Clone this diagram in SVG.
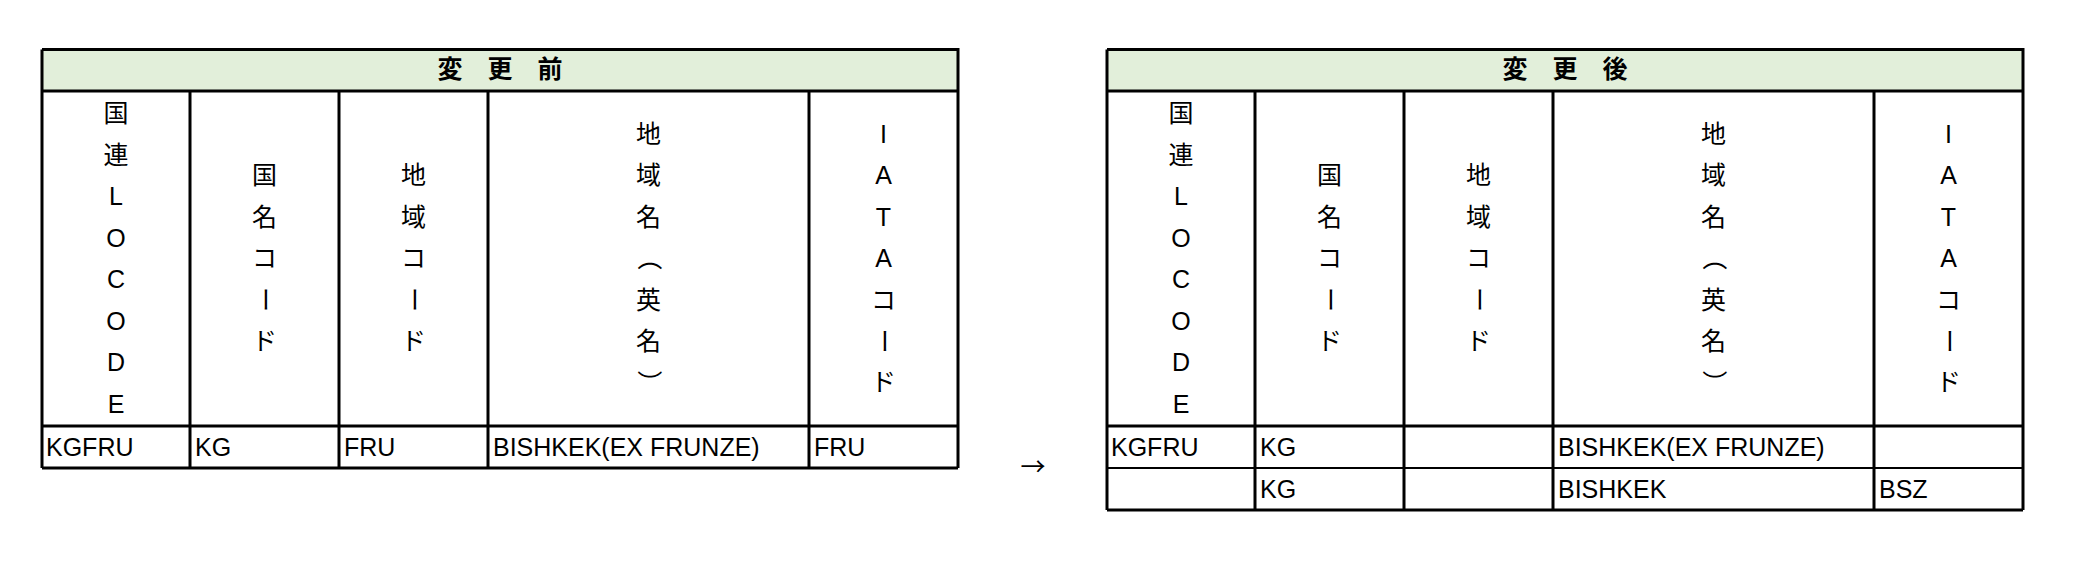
<svg xmlns="http://www.w3.org/2000/svg" width="2078" height="576" viewBox="0 0 2078 576">
<style>
text{font-family:"Liberation Sans","Noto Sans CJK JP",sans-serif;font-size:25px;fill:#000}
.t{font-weight:bold;text-anchor:middle}
.v{text-anchor:middle}
.arr{font-family:"Noto Sans CJK JP",sans-serif;text-anchor:middle}
.hd{fill:#E2EFDA}
.ln{stroke:#000;stroke-width:3;fill:none}
.thin{stroke:#000;stroke-width:2;fill:none}
</style>
<rect width="2078" height="576" fill="#fff"/>
<g id="before">
<rect class="hd" x="42" y="49.5" width="916" height="41.5"/>
<path class="ln" d="M42,49.5H958V468M42,49.5V468M42,91H958M42,426H958M42,468H958M190,91V468M339,91V468M488,91V468M809,91V468"/>
<text class="t" x="500" y="78">変　更　前</text>
<g id="before-h1" class="v">
<text x="116" y="122.4">国</text><text x="116" y="163.9">連</text><text x="116" y="205.3">L</text><text x="116" y="246.8">O</text><text x="116" y="288.2">C</text><text x="116" y="329.6">O</text><text x="116" y="371.1">D</text><text x="116" y="412.6">E</text>
</g>
<g id="before-h2" class="v">
<text x="264.5" y="184.1">国</text><text x="264.5" y="225.6">名</text><text x="264.5" y="267">コ</text><text transform="translate(264.5,299.5) rotate(90)" x="0" y="9">ー</text><text x="264.5" y="349.9">ド</text>
</g>
<g id="before-h3" class="v">
<text x="413.5" y="184.1">地</text><text x="413.5" y="225.6">域</text><text x="413.5" y="267">コ</text><text transform="translate(413.5,299.5) rotate(90)" x="0" y="9">ー</text><text x="413.5" y="349.9">ド</text>
</g>
<g id="before-h4" class="v">
<text x="648.5" y="142.7">地</text><text x="648.5" y="184.1">域</text><text x="648.5" y="225.6">名</text><text transform="translate(648.5,258) rotate(90)" x="0" y="9">（</text><text x="648.5" y="308.5">英</text><text x="648.5" y="349.9">名</text><text transform="translate(648.5,382.4) rotate(90)" x="0" y="9">）</text>
</g>
<g id="before-h5" class="v">
<text x="883.5" y="142.7">I</text><text x="883.5" y="184.1">A</text><text x="883.5" y="225.6">T</text><text x="883.5" y="267">A</text><text x="883.5" y="308.5">コ</text><text transform="translate(883.5,340.9) rotate(90)" x="0" y="9">ー</text><text x="883.5" y="391.4">ド</text>
</g>
<g id="before-r1">
<text x="46" y="456">KGFRU</text><text x="195" y="456">KG</text><text x="344" y="456">FRU</text><text x="493" y="456">BISHKEK(EX FRUNZE)</text><text x="814" y="456">FRU</text>
</g>
</g>
<g id="arrow"><text class="arr" x="1033" y="475.5">→</text></g>
<g id="after">
<rect class="hd" x="1107" y="49.5" width="916" height="41.5"/>
<path class="ln" d="M1107,49.5H2023V510M1107,49.5V510M1107,91H2023M1107,426H2023M1107,510H2023M1255,91V510M1404,91V510M1553,91V510M1874,91V510"/>
<path class="thin" d="M1107,468H2023"/>
<text class="t" x="1565" y="78">変　更　後</text>
<g id="after-h1" class="v">
<text x="1181" y="122.4">国</text><text x="1181" y="163.9">連</text><text x="1181" y="205.3">L</text><text x="1181" y="246.8">O</text><text x="1181" y="288.2">C</text><text x="1181" y="329.6">O</text><text x="1181" y="371.1">D</text><text x="1181" y="412.6">E</text>
</g>
<g id="after-h2" class="v">
<text x="1329.5" y="184.1">国</text><text x="1329.5" y="225.6">名</text><text x="1329.5" y="267">コ</text><text transform="translate(1329.5,299.5) rotate(90)" x="0" y="9">ー</text><text x="1329.5" y="349.9">ド</text>
</g>
<g id="after-h3" class="v">
<text x="1478.5" y="184.1">地</text><text x="1478.5" y="225.6">域</text><text x="1478.5" y="267">コ</text><text transform="translate(1478.5,299.5) rotate(90)" x="0" y="9">ー</text><text x="1478.5" y="349.9">ド</text>
</g>
<g id="after-h4" class="v">
<text x="1713.5" y="142.7">地</text><text x="1713.5" y="184.1">域</text><text x="1713.5" y="225.6">名</text><text transform="translate(1713.5,258) rotate(90)" x="0" y="9">（</text><text x="1713.5" y="308.5">英</text><text x="1713.5" y="349.9">名</text><text transform="translate(1713.5,382.4) rotate(90)" x="0" y="9">）</text>
</g>
<g id="after-h5" class="v">
<text x="1948.5" y="142.7">I</text><text x="1948.5" y="184.1">A</text><text x="1948.5" y="225.6">T</text><text x="1948.5" y="267">A</text><text x="1948.5" y="308.5">コ</text><text transform="translate(1948.5,340.9) rotate(90)" x="0" y="9">ー</text><text x="1948.5" y="391.4">ド</text>
</g>
<g id="after-r1">
<text x="1111" y="456">KGFRU</text><text x="1260" y="456">KG</text><text x="1558" y="456">BISHKEK(EX FRUNZE)</text>
</g>
<g id="after-r2">
<text x="1260" y="498">KG</text><text x="1558" y="498">BISHKEK</text><text x="1879" y="498">BSZ</text>
</g>
</g>
</svg>
